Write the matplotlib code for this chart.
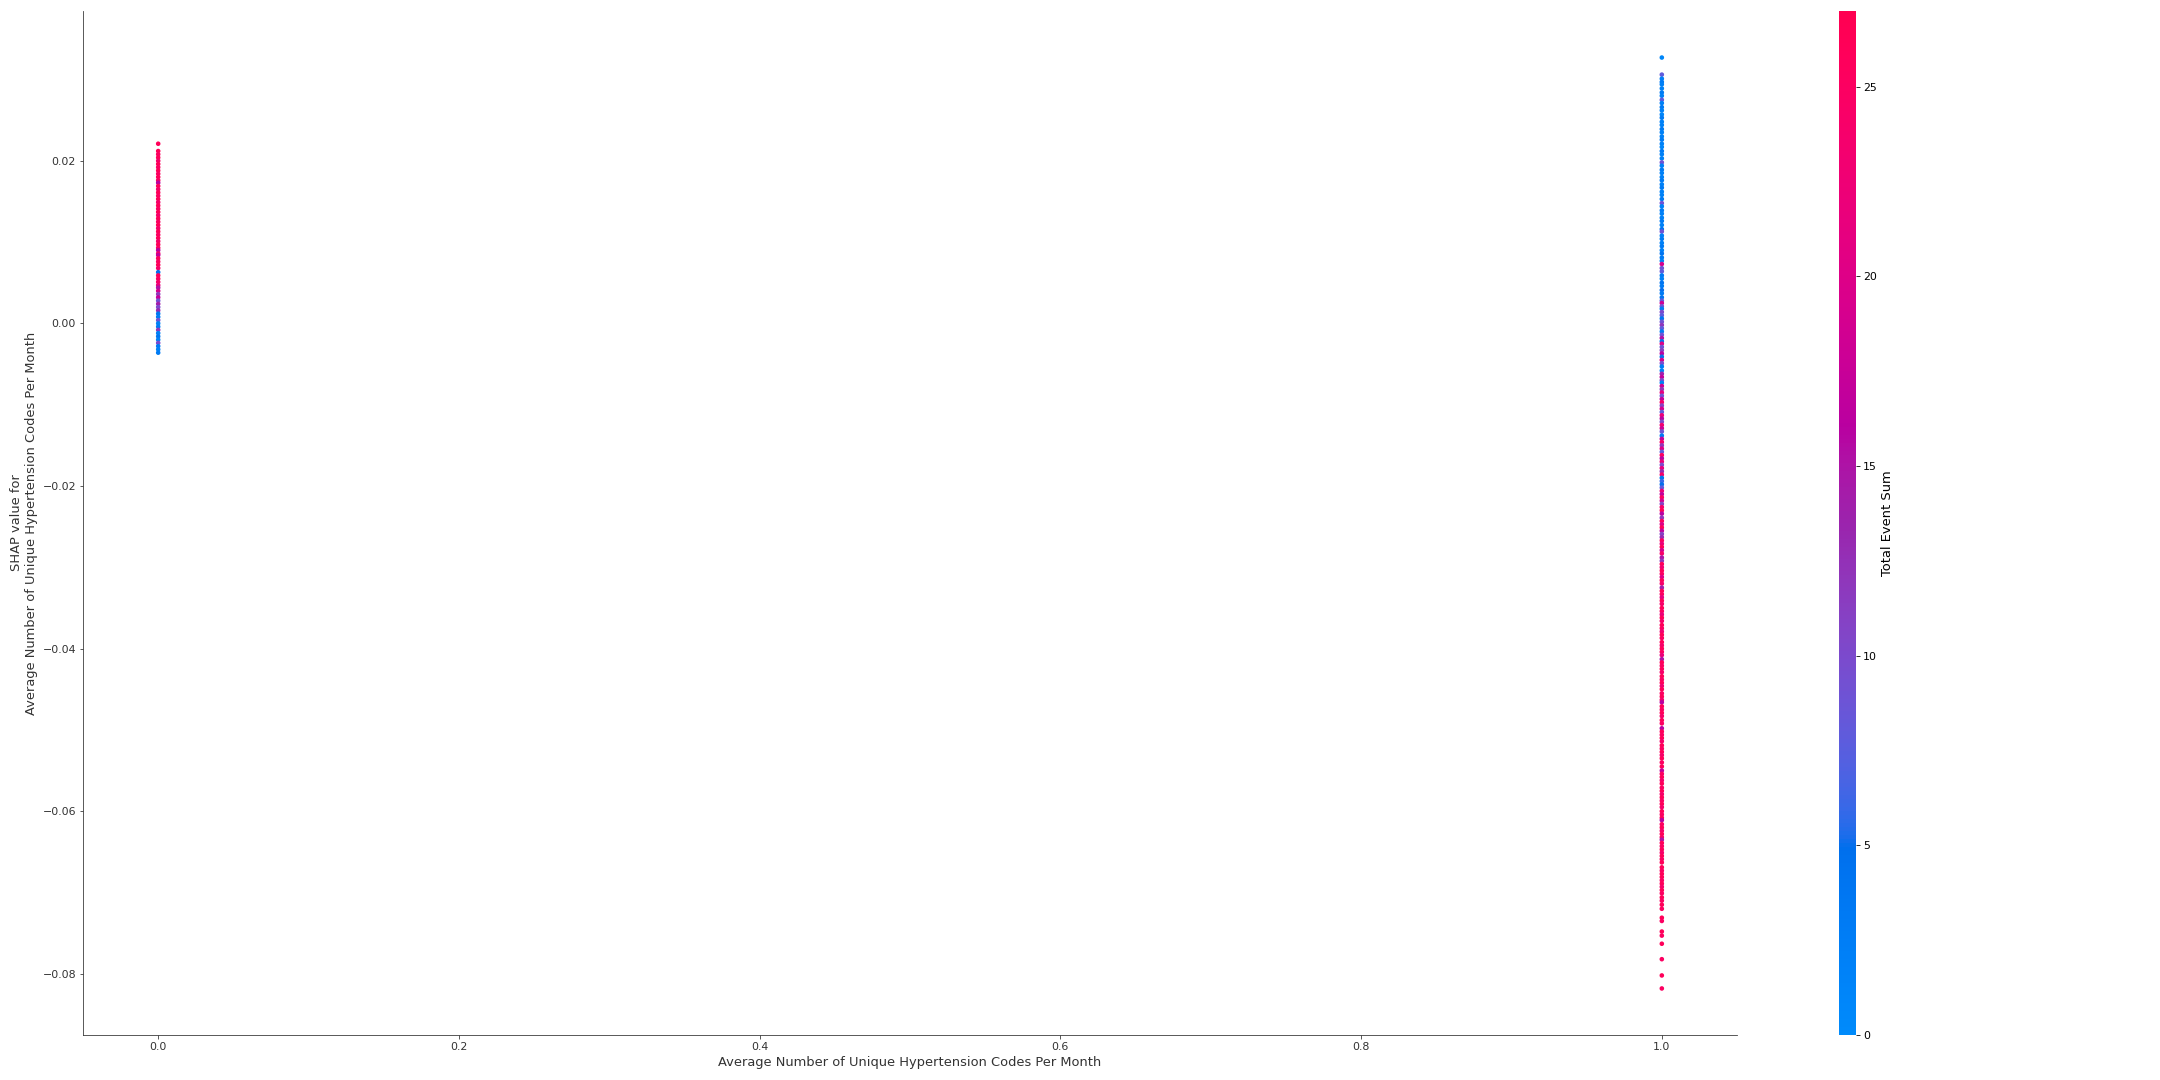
import numpy as np
import matplotlib
matplotlib.use("Agg")
import matplotlib.pyplot as plt
from matplotlib.colors import LinearSegmentedColormap, Normalize
from matplotlib.cm import ScalarMappable

# feature value (x) and SHAP values (in units of 1e-4) with the interaction feature
# "Total Event Sum" used for the colour

# column at feature value 1.0
shap_at_one = [
    327, 306, 301, 297, 294, 289, 284, 280, 275, 271,
    266, 262, 257, 253, 248, 244, 239, 235, 230, 226,
    221, 217, 212, 208, 203, 198, 194, 189, 185, 180,
    176, 171, 167, 162, 158, 153, 148, 144, 139, 135,
    130, 126, 121, 116, 113, 108, 104, 99, 95, 90,
    86, 81, 77, 73, 68, 64, 59, 55, 50, 46,
    41, 37, 32, 28, 25, 21, 18, 14, 10, 6,
    2, -2, -6, -10, -14, -18, -22, -25, -29, -33,
    -37, -41, -45, -49, -53, -58, -62, -66, -70, -73,
    -77, -81, -85, -89, -93, -97, -101, -105, -109, -113,
    -117, -121, -125, -129, -133, -138, -142, -146, -150, -154,
    -158, -162, -166, -170, -174, -178, -182, -186, -190, -194,
    -198, -202, -206, -210, -214, -218, -222, -226, -230, -234,
    -239, -243, -247, -251, -255, -259, -263, -267, -271, -275,
    -279, -283, -288, -292, -296, -300, -304, -308, -312, -316,
    -320, -325, -329, -333, -337, -341, -345, -350, -354, -358,
    -362, -366, -371, -375, -379, -383, -387, -392, -396, -400,
    -404, -408, -413, -417, -421, -425, -429, -434, -438, -442,
    -446, -450, -455, -459, -463, -466, -471, -475, -479, -483,
    -488, -492, -498, -502, -506, -510, -514, -519, -523, -527,
    -531, -535, -540, -545, -550, -554, -558, -562, -566, -571,
    -575, -579, -583, -587, -591, -595, -600, -604, -608, -611,
    -616, -620, -624, -628, -632, -635, -639, -643, -647, -651,
    -655, -659, -663, -669, -673, -677, -681, -685, -689, -693,
    -697, -701, -706, -710, -715, -720, -731, -735, -748, -753,
    -763, -782, -802, -818,
]
events_at_one = [
    1, 8, 2, 3, 2, 2, 3, 2, 8, 2,
    3, 2, 1, 3, 2, 2, 3, 2, 2, 3,
    2, 1, 3, 2, 2, 9, 2, 3, 2, 2,
    3, 2, 3, 2, 2, 3, 9, 2, 3, 2,
    2, 3, 2, 4, 9, 2, 3, 2, 3, 2,
    4, 3, 2, 19, 9, 8, 3, 2, 4, 3,
    5, 3, 4, 8, 18, 9, 3, 10, 8, 4,
    9, 12, 8, 3, 9, 15, 4, 20, 9, 11,
    16, 5, 19, 10, 3, 2, 14, 17, 10, 2,
    18, 12, 21, 9, 17, 24, 11, 19, 8, 22,
    16, 10, 23, 18, 9, 3, 17, 24, 12, 20,
    8, 25, 16, 22, 10, 21, 13, 24, 4, 6,
    5, 8, 22, 17, 25, 19, 11, 24, 26, 16,
    12, 25, 20, 26, 17, 11, 13, 25, 22, 26,
    19, 24, 15, 12, 26, 23, 26, 25, 20, 26,
    24, 14, 26, 25, 21, 26, 24, 26, 25, 22,
    26, 24, 26, 25, 23, 26, 25, 26, 24, 26,
    25, 22, 15, 26, 25, 26, 24, 26, 25, 26,
    23, 26, 25, 26, 24, 16, 26, 25, 26, 24,
    26, 25, 16, 26, 25, 26, 24, 26, 25, 26,
    24, 26, 25, 26, 17, 25, 26, 24, 26, 25,
    26, 24, 26, 25, 26, 24, 26, 25, 26, 16,
    25, 26, 24, 26, 25, 15, 26, 25, 26, 24,
    26, 25, 26, 26, 25, 26, 26, 25, 26, 24,
    26, 25, 26, 25, 26, 25, 26, 25, 26, 25,
    26, 25, 26, 25,
]

# column at feature value 0.0
shap_at_zero = [
    221, 212, 208, 204, 200, 196, 192, 188, 184, 180,
    176, 173, 169, 165, 161, 157, 153, 149, 145, 141,
    137, 133, 129, 125, 121, 117, 113, 109, 105, 101,
    97, 93, 90, 86, 84, 80, 76, 72, 68, 63,
    59, 55, 51, 47, 44, 40, 36, 32, 28, 24,
    20, 16, 12, 8, 4, 0, -4, -8, -12, -16,
    -20, -24, -28, -32, -36,
]
events_at_zero = [
    26, 26, 25, 26, 24, 26, 25, 26, 25, 26,
    25, 16, 26, 24, 26, 25, 26, 24, 26, 25,
    26, 24, 26, 25, 26, 24, 26, 25, 26, 24,
    26, 25, 16, 24, 17, 26, 25, 26, 24, 5,
    26, 25, 24, 22, 15, 19, 12, 17, 9, 14,
    10, 13, 4, 3, 9, 2, 3, 12, 2, 4,
    2, 10, 3, 2, 3,
]

feature_name = "Average Number of Unique Hypertension Codes Per Month"
color_name = "Total Event Sum"
event_max = 27
axis_color = "#333333"


def lch_to_rgb(l, c, h):
    # Lch -> Lab -> XYZ (D65) -> sRGB
    a = c * np.cos(h)
    b = c * np.sin(h)
    fy = (l + 16.0) / 116.0
    fx = a / 500.0 + fy
    fz = fy - b / 200.0
    xyz = []
    for f in (fx, fy, fz):
        if f ** 3 > 0.008856:
            xyz.append(f ** 3)
        else:
            xyz.append((f - 16.0 / 116.0) / 7.787)
    xyz = np.array(xyz) * np.array([0.95047, 1.0, 1.08883])
    m = np.array([[3.24048134, -1.53715152, -0.49853633],
                  [-0.96925495, 1.87599, 0.04155593],
                  [0.05564664, -0.20404134, 1.05731107]])
    rgb = m @ xyz
    out = []
    for v in rgb:
        if v > 0.0031308:
            v = 1.055 * v ** (1 / 2.4) - 0.055
        else:
            v = 12.92 * v
        out.append(min(max(v, 0.0), 1.0))
    return out


def make_red_blue():
    # same construction as the shap red_blue colormap
    blue_lch = [54.0, 70.0, 4.6588]
    red_lch = [54.0, 90.0, 0.35470565 + 2 * np.pi]
    l_mid = 40.0
    nsteps = 100
    l_vals = list(np.linspace(blue_lch[0], l_mid, nsteps // 2)) + list(np.linspace(l_mid, red_lch[0], nsteps // 2))
    c_vals = np.linspace(blue_lch[1], red_lch[1], nsteps)
    h_vals = np.linspace(blue_lch[2], red_lch[2], nsteps)
    colors = [lch_to_rgb(l, c, h) for l, c, h in zip(l_vals, c_vals, h_vals)]
    return LinearSegmentedColormap.from_list("red_blue", colors)


assert len(shap_at_one) == len(events_at_one)
assert len(shap_at_zero) == len(events_at_zero)

cmap = make_red_blue()
norm = Normalize(vmin=0, vmax=event_max)

xs = [0.0] * len(shap_at_zero) + [1.0] * len(shap_at_one)
ys = np.array(shap_at_zero + shap_at_one) / 10000.0
cs = events_at_zero + events_at_one

fig = plt.figure(figsize=(30, 15), dpi=72)
ax = fig.add_axes([83 / 2160, 45 / 1080, 1654 / 2160, 1024 / 1080])
cax = fig.add_axes([1839 / 2160, 45 / 1080, 17 / 2160, 1024 / 1080])

ax.scatter(xs, ys, s=21, c=cs, cmap=cmap, norm=norm, linewidth=0, alpha=1)

ax.set_xlabel(feature_name, color=axis_color, fontsize=13)
ax.set_ylabel("SHAP value for\n" + feature_name, color=axis_color, fontsize=13)
ax.xaxis.set_ticks_position("bottom")
ax.yaxis.set_ticks_position("left")
ax.spines["right"].set_visible(False)
ax.spines["top"].set_visible(False)
ax.spines["left"].set_edgecolor(axis_color)
ax.spines["bottom"].set_edgecolor(axis_color)
ax.tick_params(color=axis_color, labelcolor=axis_color, labelsize=11)

cb = fig.colorbar(ScalarMappable(norm=norm, cmap=cmap), cax=cax)
cb.set_label(color_name, size=13)
cb.ax.tick_params(labelsize=11)
cb.outline.set_visible(False)

plt.savefig("out.png", dpi=72)
plt.close()
